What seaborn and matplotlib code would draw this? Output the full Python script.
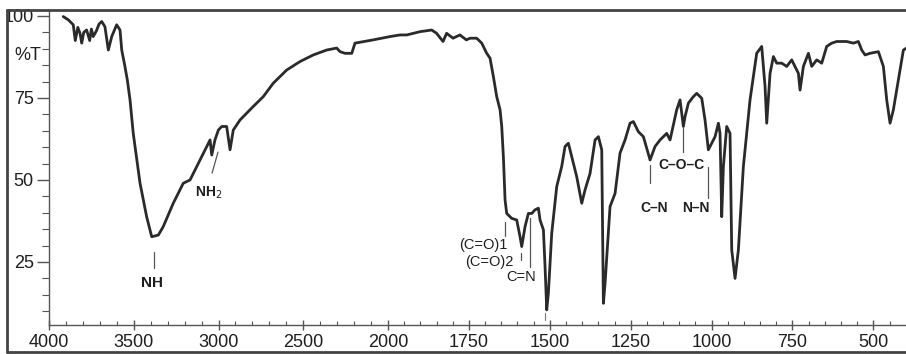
import numpy as np
import pandas as pd
import matplotlib
matplotlib.use("Agg")
import matplotlib.pyplot as plt
from matplotlib.lines import Line2D
from matplotlib.patches import Rectangle
from matplotlib.ticker import FixedLocator
import seaborn as sns

# IR spectrum: wavenumber (cm-1) and percent transmittance
wavenumber = [
    3916, 3886, 3857, 3845, 3830, 3817, 3807, 3795, 3778, 3760, 3750, 3739,
    3720, 3705, 3689, 3670, 3650, 3630, 3601, 3581, 3571, 3552, 3538, 3522,
    3503, 3463, 3424, 3394, 3355, 3326, 3267, 3208, 3168, 3109, 3070, 3050,
    3040, 3021, 3001, 2981, 2952, 2932, 2913, 2873, 2795, 2736, 2677, 2598,
    2519, 2441, 2362, 2303, 2283, 2254, 2214, 2195, 2087, 1994, 1963, 1942,
    1901, 1865, 1850, 1830, 1819, 1799, 1778, 1758,
    1746.5, 1726, 1710.4, 1695, 1684.7, 1674.4, 1664.1, 1653.8, 1648.6, 1643.5,
    1638.3, 1633.2, 1617.7, 1602.3, 1592, 1586.8, 1576.5, 1566.2, 1555.9,
    1545.6, 1535.3, 1530.1, 1519.8, 1514.7, 1509.5, 1504.4, 1494.1, 1478.6,
    1463.2, 1452.9, 1442.6, 1432.3, 1416.8, 1401.3, 1391.0, 1375.6, 1360.1,
    1349.8, 1339.5, 1334.4, 1329.2, 1313.8, 1298.3, 1282.9, 1267.4, 1252.0,
    1241.7, 1226.2, 1210.7, 1190.1, 1174.7, 1159.2, 1148.9, 1138.6, 1128.3,
    1107.7, 1097.4, 1087.1, 1082.0, 1071.7, 1056.2, 1045.9, 1030.4, 1020.2,
    1009.9, 1004.7, 989.2, 978.9, 973.8, 968.6, 963.5, 953.2, 942.9, 937.7,
    927.4, 917.1, 901.7, 881.1, 860.5, 845.0, 834.7, 829.5, 819.2, 808.9,
    798.6, 783.2, 767.7, 752.3, 731.6, 726.5, 716.2, 700.7, 690.4, 675.0,
    659.5, 644.1, 628.6, 613.2, 582.3, 561.7, 546.2, 535.9, 525.6, 510.1,
    484.4, 468.9, 458.6, 448.3, 438.0, 422.6, 407.1, 398.9,
]
transmittance = [
    99.8, 98.8, 97.3, 92.5, 96.5, 94.7, 91.7, 95.0, 95.7, 92.5, 96.0, 93.7,
    95.5, 97.5, 98.3, 96.7, 89.6, 93.7, 97.3, 95.7, 89.6, 84.6, 80.5, 74.4,
    64.2, 49.0, 38.8, 32.7, 33.2, 35.8, 42.9, 49.0, 50.0, 56.1, 60.2, 62.2,
    57.6, 62.2, 65.2, 66.3, 66.3, 59.2, 65.2, 68.3, 72.4, 75.4, 79.5, 83.5,
    86.1, 88.1, 89.6, 90.2, 89.1, 88.6, 88.6, 91.7, 92.7, 93.7, 94.2, 94.2,
    95.2, 95.7, 94.7, 92.2, 94.7, 93.2, 94.2, 92.7,
    93.2, 93.2, 91.7, 88.6, 87.1, 81.5, 75.4, 71.4, 66.3, 57.1,
    43.9, 39.8, 38.3, 37.8, 32.7, 29.7, 35.8, 39.8, 39.8,
    40.9, 41.4, 37.8, 34.8, 23.6, 10.4, 15.5, 33.7, 48.0,
    54.1, 60.2, 61.2, 57.1, 51.0, 42.9, 47.0, 52.0, 62.2,
    63.2, 59.2, 12.4, 18.5, 41.9, 45.9, 58.2, 62.2, 67.3,
    67.8, 64.7, 63.2, 56.1, 60.2, 62.2, 63.2, 64.2, 62.2,
    71.4, 74.4, 66.3, 69.3, 73.4, 75.4, 76.4, 74.9, 68.3,
    59.2, 60.2, 63.2, 67.3, 64.2, 38.8, 54.1, 66.3, 64.2, 28.7,
    20.0, 28.7, 54.1, 74.4, 88.6, 90.7, 78.5, 67.3, 82.5, 87.6,
    85.6, 85.6, 84.6, 86.6, 82.5, 77.4, 84.6, 88.6, 84.6, 86.6,
    85.6, 90.7, 91.7, 92.2, 92.2, 91.7, 92.2, 89.6, 88.1, 88.6,
    89.1, 84.6, 74.4, 67.3, 71.4, 80.5, 89.6, 90.1,
]

x_major = [4000, 3500, 3000, 2500, 2000, 1750, 1500, 1250, 1000, 750, 500]
x_minor = [w for w in range(3900, 2000, -100) if w not in x_major] + \
          [w for w in range(1950, 400, -50) if w not in x_major]
y_major = [25, 50, 75, 100]
y_labels = ["25", "50", "75", "100"]
y_minor = [v for v in range(10, 101, 5) if v not in y_major]

# band assignments: label, text position (cm-1, %T), marker line (cm-1, %T from, %T to), alignment, size, weight
bands = [
    ("NH", (3390, 18.6), (3380, 28.1, 23.2), "center", 11, "bold"),
    ("NH$_2$", (3056, 46.0), None, "center", 10, "bold"),
    ("(C=O)1", (1631, 30.2), (1638, 37.2, 32.9), "right", 10.5, "normal"),
    ("(C=O)2", (1612, 25.0), (1589, 27.7, 25.6), "right", 10.5, "normal"),
    ("C=N", (1589, 20.4), (1561, 38.4, 23.5), "center", 10.5, "normal"),
    ("C–O–C", (1094, 54.6), (1088, 65.9, 58.5), "center", 10, "bold"),
    ("C–N", (1178, 41.5), (1190, 54.6, 49.1), "center", 10, "bold"),
    ("N–N", (1048, 41.5), (1011, 54.0, 44.5), "center", 10, "bold"),
]
nh2_marker = [(3003, 58.5), (3038, 52.1)]

sns.set_style("ticks")
plt.rcParams["font.family"] = ["Liberation Sans", "DejaVu Sans"]

W, H = 906, 354
fig = plt.figure(figsize=(W / 100, H / 100), dpi=100)
ax = fig.add_axes([49 / W, 1 - 325 / H, (W - 49) / W, (325 - 10) / H])

BREAK, RATIO = 2000.0, 0.524


def fwd(w):
    w = np.asarray(w, float)
    return np.where(w > BREAK, BREAK + (w - BREAK) * RATIO, w)


def inv(u):
    u = np.asarray(u, float)
    return np.where(u > BREAK, BREAK + (u - BREAK) / RATIO, u)


ax.set_xscale("function", functions=(fwd, inv))

df = pd.DataFrame({"wavenumber": wavenumber, "T": transmittance})
sns.lineplot(data=df, x="wavenumber", y="T", ax=ax, sort=False,
             color="#2a2a2a", linewidth=2.0, estimator=None)

ax.set_xlim(4000, 399)
ax.set_ylim(5.8, 101.8)
ax.set_xlabel("")
ax.set_ylabel("")

ax.xaxis.set_major_locator(FixedLocator(x_major))
ax.xaxis.set_minor_locator(FixedLocator(x_minor))
ax.set_xticklabels([str(v) for v in x_major])
ax.yaxis.set_major_locator(FixedLocator(y_major))
ax.yaxis.set_minor_locator(FixedLocator(y_minor))
ax.set_yticklabels(y_labels)

ax.tick_params(axis="x", which="major", direction="inout", length=7, width=1,
               color="#555555", labelsize=13, pad=3, labelcolor="#1e1e1e")
ax.tick_params(axis="x", which="minor", direction="in", length=3, width=0.8,
               color="#555555")
ax.tick_params(axis="y", which="major", direction="out", length=9, width=1,
               color="#555555", labelsize=13, pad=2, labelcolor="#1e1e1e")
ax.tick_params(axis="y", which="minor", direction="out", length=5, width=0.8,
               color="#555555")

for side in ("top", "right"):
    ax.spines[side].set_visible(False)
for side in ("left", "bottom"):
    ax.spines[side].set_color("#555555")
    ax.spines[side].set_linewidth(1)

# band labels and marker lines
for label, (tx, ty), marker, ha, size, weight in bands:
    ax.text(tx, ty, label, ha=ha, va="center", fontsize=size,
            fontweight=weight, color="#1e1e1e")
    if marker is not None:
        mx, y0, y1 = marker
        ax.plot([mx, mx], [y0, y1], color="#555555", linewidth=0.9)
ax.plot([p[0] for p in nh2_marker], [p[1] for p in nh2_marker],
        color="#555555", linewidth=0.9)
ax.plot([1515, 1515], [9.5, 7.3], color="#777777", linewidth=0.8)

fig.text(41 / W, 1 - 55 / H, "%T", ha="right", va="center", fontsize=13,
         color="#1e1e1e")

# frame around the chart
fig.add_artist(Rectangle((0, 0), 7 / W, 1, transform=fig.transFigure,
                         facecolor="white", edgecolor="none", zorder=9))
frame_kw = dict(transform=fig.transFigure, color="#444444", linewidth=2, zorder=10)
fig.add_artist(Line2D([7 / W, 1], [1 - 10 / H, 1 - 10 / H], **frame_kw))
fig.add_artist(Line2D([7 / W, 7 / W], [1 - 352 / H, 1 - 10 / H], **frame_kw))
fig.add_artist(Line2D([7 / W, 1], [1 - 352 / H, 1 - 352 / H], **frame_kw))

fig.savefig("out.png", dpi=100)
